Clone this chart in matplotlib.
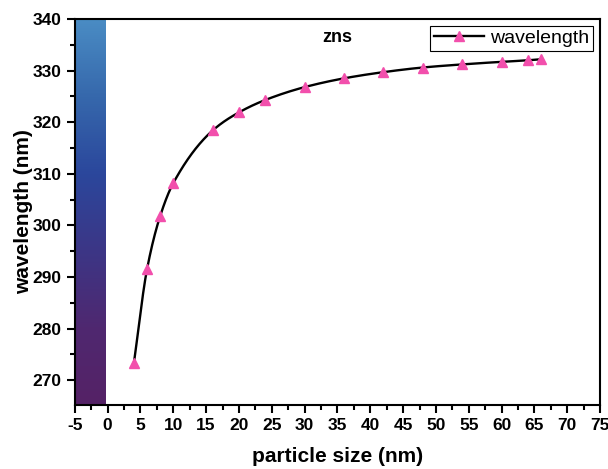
import numpy as np
import matplotlib
matplotlib.use("Agg")
import matplotlib.pyplot as plt
from matplotlib.colors import LinearSegmentedColormap
from matplotlib.ticker import MultipleLocator

particle_size = [4, 6, 8, 10, 16, 20, 24, 30, 36, 42, 48, 54, 60, 64, 66]
wavelength = [273.3, 291.5, 301.8, 308.2, 318.4, 321.9, 324.3, 326.8, 328.5,
              329.7, 330.6, 331.2, 331.7, 332.0, 332.2]
x_ticks = list(range(-5, 80, 5))
y_ticks = list(range(270, 350, 10))
series_name = "wavelength"
title_text = "zns"


def pchip(x, y, n=30):
    x = np.asarray(x, float); y = np.asarray(y, float)
    h = np.diff(x); d = np.diff(y) / h
    m = np.zeros_like(y)
    for k in range(1, len(x) - 1):
        if d[k - 1] * d[k] > 0:
            w1 = 2 * h[k] + h[k - 1]; w2 = h[k] + 2 * h[k - 1]
            m[k] = (w1 + w2) / (w1 / d[k - 1] + w2 / d[k])
    m[0] = d[0]; m[-1] = d[-1]
    xs, ys = [], []
    for k in range(len(x) - 1):
        t = np.linspace(0, 1, n, endpoint=False)
        h00 = 2 * t**3 - 3 * t**2 + 1; h10 = t**3 - 2 * t**2 + t
        h01 = -2 * t**3 + 3 * t**2; h11 = t**3 - t**2
        xs.append(x[k] + t * h[k])
        ys.append(h00 * y[k] + h10 * h[k] * m[k] + h01 * y[k + 1] + h11 * h[k] * m[k + 1])
    xs.append([x[-1]]); ys.append([y[-1]])
    return np.concatenate(xs), np.concatenate(ys)


plt.rcParams['font.family'] = ['Liberation Sans', 'DejaVu Sans']
plt.rcParams['axes.unicode_minus'] = False
fig = plt.figure(figsize=(6.08, 4.69), dpi=100)
ax = fig.add_axes([0.123, 0.1365, 0.864, 0.823])

cmap = LinearSegmentedColormap.from_list(
    "bar", ["#552266", "#4f2870", "#3c3686", "#2b479c", "#3668ac", "#4a8cc4"])
grad = np.linspace(0, 1, 256).reshape(-1, 1)
ax.imshow(grad, cmap=cmap, origin="lower", aspect="auto",
          extent=[-5, -0.3, 265.2, 340], zorder=0)

sx, sy = pchip(particle_size, wavelength)
ax.plot(sx, sy, color="black", lw=1.7, zorder=2)
ax.plot(particle_size, wavelength, ls="none", marker="^", ms=7,
        color="#f24fac", zorder=3)
ax.plot([], [], color="black", lw=1.7, marker="^", ms=7, mfc="#f24fac",
        mec="#f24fac", label=series_name)

ax.set_xlim(-5, 75)
ax.set_ylim(265.2, 340)
ax.set_xticks(x_ticks)
ax.set_yticks(y_ticks)
ax.xaxis.set_minor_locator(MultipleLocator(2.5))
ax.yaxis.set_minor_locator(MultipleLocator(5))
ax.tick_params(which="major", direction="out", length=6, width=1.5, labelsize=12.5)
ax.tick_params(which="minor", direction="out", length=3.5, width=1.5)
for lab in ax.get_xticklabels() + ax.get_yticklabels():
    lab.set_fontweight("bold")
for s in ax.spines.values():
    s.set_linewidth(1.5)

ax.set_xlabel("particle size (nm)", fontsize=15, fontweight="bold", labelpad=10)
ax.set_ylabel("wavelength (nm)", fontsize=15, fontweight="bold", labelpad=0)
ax.text(34.9, 336.5, title_text, fontsize=13, fontweight="bold",
        ha="center", va="center")

leg = ax.legend(loc="upper right", fancybox=False, edgecolor="black",
                framealpha=1, borderaxespad=0.35, handlelength=2.6,
                prop={"family": "Liberation Sans", "size": 14},
                borderpad=0.2, handletextpad=0.3)
leg.get_frame().set_linewidth(0.8)

fig.savefig("out.png", dpi=100)
